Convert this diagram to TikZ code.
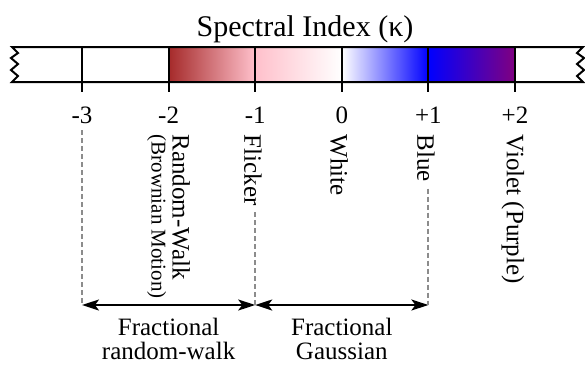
\documentclass[tikz,border=0pt]{standalone}
\usepackage{fontspec}
\setmainfont{Liberation Serif}
\usetikzlibrary{arrows.meta,positioning}
\definecolor{SIBrown}{HTML}{A52A2A}
\definecolor{SIPink}{HTML}{FFC0CB}
\definecolor{SIPurple}{HTML}{800080}
\definecolor{SIGray}{HTML}{8C8C8C}

\begin{document}
\begin{tikzpicture}[
  x=1pt,y=-1pt,
  bar/.style={line width=2pt,draw=black,line join=miter},
  tickline/.style={line width=2pt},
  num/.style={font=\fontsize{25}{25}\selectfont,anchor=base,inner sep=0pt},
  vlab/.style={rotate=-90,anchor=west,inner sep=6.5pt,align=left,font=\fontsize{25}{21}\selectfont},
  guide/.style={dash pattern=on 5pt off 3pt,draw=SIGray,line width=2pt},
  span/.style={{Stealth[length=17pt,width=11pt,inset=4pt]}-{Stealth[length=17pt,width=11pt,inset=4pt]},line width=2pt},
  grp/.style={align=center,inner sep=0pt,font=\fontsize{25}{24}\selectfont}
]
\useasboundingbox (0,0) rectangle (585,368);
\node[font=\fontsize{30}{30}\selectfont,anchor=base] (title) at (305,36) {Spectral Index (κ)};
% coloured part of the scale
\fill[left color=SIBrown,right color=SIPink] (168.6,47) rectangle (255.2,82);
\fill[left color=SIPink,right color=white] (255.2,47) rectangle (341.8,82);
\fill[left color=white,right color=blue] (341.8,47) rectangle (428.4,82);
\fill[left color=blue,right color=SIPurple] (428.4,47) rectangle (515,82);
\draw[bar] (12,47) -- (583,47) -- (577,53) -- (584,58) -- (577,64) -- (584,70) -- (577,76) -- (583,82)
  -- (12,82) -- (18,76) -- (11,70) -- (18,64) -- (11,58) -- (18,53) -- cycle;
\draw[tickline] (82,47) -- (82,92);
\draw[tickline] (168.6,47) -- (168.6,92);
\draw[tickline] (255.2,47) -- (255.2,92);
\draw[tickline] (341.8,47) -- (341.8,92);
\draw[tickline] (428.4,47) -- (428.4,92);
\draw[tickline] (515,47) -- (515,92);
\node[num] (m3) at (82,123) {-3};
\node[num] (m2) at (168.6,123) {-2};
\node[num] (m1) at (255.2,123) {-1};
\node[num] (z0) at (341.8,123) {0};
\node[num] (p1) at (428.4,123) {+1};
\node[num] (p2) at (515,123) {+2};
% noise names
\node[vlab] (brown) at (168.6,128) {Random-Walk\\{\fontsize{21}{21}\selectfont(Brownian Motion)}};
\node[vlab] (flicker) at (253,128) {Flicker};
\node[vlab] (white) at (339,128) {White};
\node[vlab] (blue) at (426,128) {Blue};
\node[vlab] (violet) at (513,128) {Violet (Purple)};
\coordinate (e1) at (82,305);
\coordinate (e2) at (255.2,305);
\coordinate (e3) at (428.4,305);
\draw[span] (e1) -- node[grp,below=12pt] (frw) {Fractional\\random-walk} (e2);
\draw[span] (e2) -- node[grp,below=12pt] (fgn) {Fractional\\Gaussian} (e3);
\draw[guide,shorten <=7pt] (m3.south) -- (e1);
\draw[guide] (flicker.east -| e2) -- (e2);
\draw[guide] (blue.east -| e3) -- (e3);
\end{tikzpicture}
\end{document}
